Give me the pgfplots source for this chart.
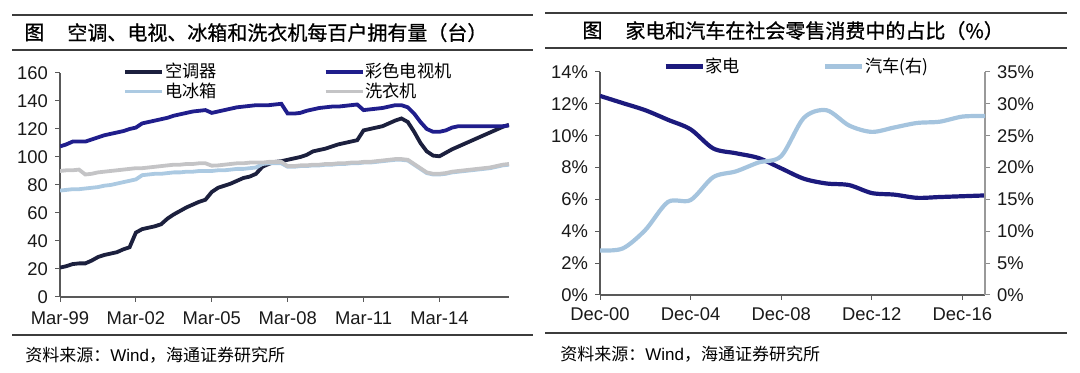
\documentclass[border=0pt]{standalone}
\usepackage{pgfplots}
\pgfplotsset{compat=1.18}
\usepackage{pgfplotstable}
\usepackage{fontspec}
\setmainfont{Liberation Sans}
\newfontfamily\cjk{Noto Sans CJK SC}
\newfontfamily\cjkb[FakeBold=0.8]{Noto Sans CJK SC}

\definecolor{acc}{RGB}{28,32,62}
\definecolor{tvc}{RGB}{32,30,140}
\definecolor{frc}{RGB}{172,202,226}
\definecolor{wmc}{RGB}{196,196,198}
\definecolor{jdc}{RGB}{28,26,125}
\definecolor{qcc}{RGB}{165,196,222}
\definecolor{rulec}{RGB}{60,60,60}

\pgfplotstableread{
q ac tv fr wm
0 21 107.5 76 90
1 22 109 76.5 90.5
2 23.5 111 77 90.5
3 24 111 77 91
4 24 111 77.5 87.5
5 26 112.5 78 88
6 28.5 114 78.5 89
7 30 115.5 79.5 89.5
8 31 116.5 80 90
9 32 117.5 81 90.5
10 34 118.5 82 91
11 35.5 120 83 91.5
12 46 121 84 92
13 48.5 124 87 92
14 49.5 125 87.5 92.5
15 50.5 126 88 93
16 52 127 88 93.5
17 56 128 88.5 94
18 59 129.5 89 94.5
19 61.5 130.5 89 94.5
20 64 131.5 89.5 95
21 66 132.5 89.5 95
22 68 133 90 95.5
23 69.5 133.5 90 95.5
24 75 131.5 90 93.8
25 78 132.5 90.5 94
26 79.5 133.5 90.5 94.5
27 81 134.5 91 95
28 83 135.5 91.5 95.5
29 85 136 91.5 95.5
30 86 136.5 92 96
31 88 137 92.5 96
32 93 137 95 96
33 95 137 95.5 96.5
34 96.5 137.5 95.5 96.5
35 97 138 95.5 96.5
36 98 131 93 93.5
37 99 131 93 93.5
38 100 131.5 93.5 94
39 101.5 133 93.5 94
40 104 134 94 94.5
41 105 135 94 94.5
42 106 135.5 94.5 95
43 107.5 136 94.5 95
44 109 136 95 95.5
45 110 136.5 95 95.5
46 111 137 95.5 96
47 112 137.5 95.5 96
48 119 133.5 96 96.5
49 120 134 96 96.5
50 121 134.5 96.5 97
51 122 135 97 97.5
52 124 136 97.5 98
53 126 137 98 98.5
54 127.5 137 98 98.5
55 125 135.5 97.5 98
56 118 131 94.5 95
57 110 125 91.5 92
58 104 120 88.5 89
59 101 118 87.5 88
60 100.5 118 87.5 88
61 103 119 88 88.5
62 105.5 121 89 89.5
63 107.5 122 89.5 90
64 109.5 122 90 90.5
65 111.5 122 90.5 91
66 113.5 122 91 91.5
67 115.5 122 91.5 92
68 117.5 122 92 92.5
69 119.5 122 93 93.5
70 121.5 122 94 94.5
71 123 122.5 94.5 95
}\lefttab

\pgfplotstableread{
t jd qc
0 12.5 7.0
1 12.05 7.3
2 11.6 10.2
3 11.0 14.6
4 10.4 14.9
5 9.2 18.5
6 8.9 19.4
7 8.6 20.8
8 7.95 21.8
9 7.3 27.8
10 7.0 29.0
11 6.9 26.6
12 6.4 25.6
13 6.3 26.3
14 6.1 27.0
15 6.15 27.2
16 6.2 28.0
17 6.25 28.1
}\righttab

\pgfplotsset{
  every axis/.append style={
    /pgf/number format/assume math mode=true,
    scale only axis,
    tick align=outside,
    major tick length=2.5pt,
    tick style={color=black!65, line width=0.5pt},
    axis line style={black!65, line width=0.6pt, -},
    ticklabel style={font=\fontsize{9.2}{10}\selectfont, text=black!90},
    legend cell align=left,
  },
  legline/.style={legend image code/.code={\draw[##1] (0pt,0pt) -- (18.5pt,0pt);}},
}

\begin{document}
\begin{tikzpicture}
\useasboundingbox (0,0) rectangle (540pt,186.5pt);

% ---------- left panel frame and texts ----------
\draw[rulec, line width=0.7pt] (6pt,179pt) -- (266.5pt,179pt);
\draw[rulec, line width=0.7pt] (6pt,161.5pt) -- (266.5pt,161.5pt);
\draw[rulec, line width=0.7pt] (6pt,19pt) -- (266.5pt,19pt);
\node[anchor=west, inner sep=0pt, font=\cjkb\fontsize{10}{12}\selectfont] at (12pt,170.2pt) {图};
\node[anchor=west, inner sep=0pt, font=\cjkb\fontsize{10}{12}\selectfont] at (33.5pt,170.2pt) {空调、电视、冰箱和洗衣机每百户拥有量（台）};
\node[anchor=west, inner sep=0pt, font=\fontsize{8.5}{10}\selectfont] at (12.5pt,9pt) {{\cjk 资料来源：}Wind{\cjk ，海通证券研究所}};

% ---------- right panel frame and texts ----------
\draw[rulec, line width=0.7pt] (272.5pt,180pt) -- (533.5pt,180pt);
\draw[rulec, line width=0.7pt] (272.5pt,162.5pt) -- (533.5pt,162.5pt);
\draw[rulec, line width=0.7pt] (272.5pt,20pt) -- (533.5pt,20pt);
\node[anchor=west, inner sep=0pt, font=\cjkb\fontsize{10}{12}\selectfont] at (291pt,171.2pt) {图};
\node[anchor=west, inner sep=0pt, font=\cjkb\fontsize{10}{12}\selectfont] at (312.5pt,171.2pt) {家电和汽车在社会零售消费中的占比（\%）};
\node[anchor=west, inner sep=0pt, font=\fontsize{8.5}{10}\selectfont] at (280pt,9.5pt) {{\cjk 资料来源：}Wind{\cjk ，海通证券研究所}};

% ---------- left chart ----------
\begin{axis}[
  at={(30pt,38pt)}, anchor=south west,
  width=224.5pt, height=112pt,
  xmin=0, xmax=71, ymin=0, ymax=160,
  axis x line*=bottom, axis y line*=left,
  xtick={0,12,24,36,48,60},
  xticklabels={Mar-99,Mar-02,Mar-05,Mar-08,Mar-11,Mar-14},
  xticklabel style={yshift=-1.5pt},
  ytick={0,20,...,160},
  legend columns=2,
  legend style={draw=none, fill=none, inner sep=0pt,
    at={(0.14,1.05)}, anchor=north west,
    font=\cjk\fontsize{8.6}{9}\selectfont,
    nodes={inner sep=0.5pt},
    /tikz/every odd column/.append style={column sep=0pt},
    /tikz/every even column/.append style={column sep=53pt}},
  legline,
]
\addplot[acc, line width=1.9pt] table[x=q, y=ac] {\lefttab};
\addlegendentry{空调器}
\addplot[tvc, line width=1.9pt] table[x=q, y=tv] {\lefttab};
\addlegendentry{彩色电视机}
\addplot[frc, line width=1.9pt] table[x=q, y=fr] {\lefttab};
\addlegendentry{电冰箱}
\addplot[wmc, line width=1.9pt] table[x=q, y=wm] {\lefttab};
\addlegendentry{洗衣机}
\end{axis}

% ---------- right chart: left axis ----------
\begin{axis}[
  at={(300pt,39pt)}, anchor=south west,
  width=192.5pt, height=111.5pt,
  xmin=0, xmax=17, ymin=0, ymax=14,
  axis x line*=bottom, axis y line*=left,
  xtick={0,4,8,12,16},
  xticklabels={Dec-00,Dec-04,Dec-08,Dec-12,Dec-16},
  xticklabel style={yshift=-0.5pt},
  ytick={0,2,...,14},
  yticklabel={\pgfmathprintnumber{\tick}\%},
  legend columns=2,
  legend style={draw=none, fill=none, inner sep=0pt,
    at={(0.164,1.025)}, anchor=west,
    font=\cjk\fontsize{8.6}{9}\selectfont,
    nodes={inner sep=0.5pt},
    /tikz/every odd column/.append style={column sep=0pt},
    /tikz/every even column/.append style={column sep=41pt}},
  legline,
]
\addplot[jdc, line width=2.1pt, smooth] table[x=t, y=jd] {\righttab};
\addlegendentry{家电}
\addlegendimage{qcc, line width=2.1pt}
\addlegendentry{汽车(右)}
\end{axis}

% ---------- right chart: right axis ----------
\begin{axis}[
  at={(300pt,39pt)}, anchor=south west,
  width=192.5pt, height=111.5pt,
  xmin=0, xmax=17, ymin=0, ymax=35,
  axis x line=none, axis y line*=right,
  axis line style={black!40, line width=0.6pt, -},
  tick style={color=black!45, line width=0.5pt},
  ytick={0,5,...,35},
  yticklabel={\pgfmathprintnumber{\tick}\%},
]
\addplot[qcc, line width=2.1pt, smooth] table[x=t, y=qc] {\righttab};
\end{axis}
\end{tikzpicture}
\end{document}
